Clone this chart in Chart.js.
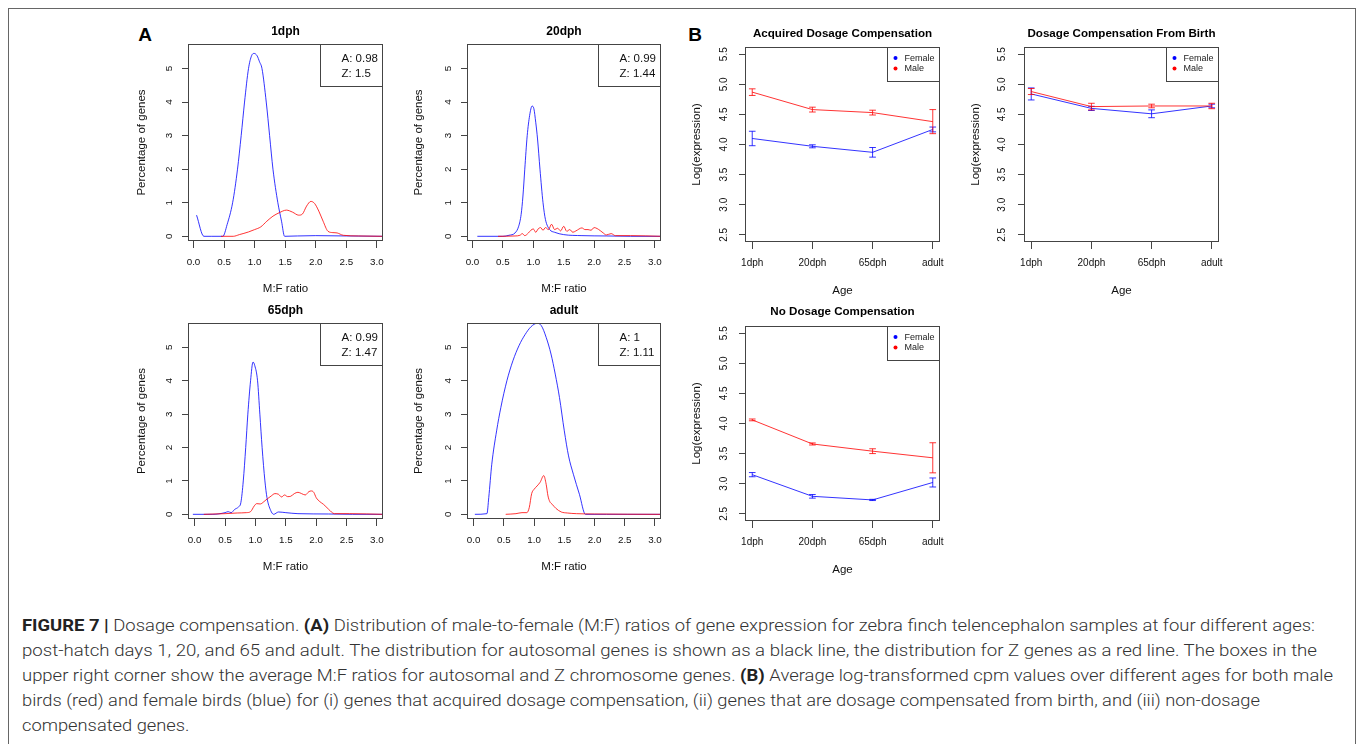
<!DOCTYPE html>
<html>
<head>
<meta charset="utf-8">
<script src="https://cdn.jsdelivr.net/npm/chart.js@4.4.1/dist/chart.umd.min.js"></script>
<style>
  body { margin: 0; background: #fff; width: 1358px; height: 744px; overflow: hidden; position: relative; font-family: "Liberation Sans", Arial, sans-serif; }
  #frame { position: absolute; left: 8px; top: 8px; width: 1346px; height: 760px; border: 1px solid #666; }
  .pnl { position: absolute; }
  .tag { position: absolute; font-weight: bold; font-size: 19px; color: #000; transform: translate(-50%, -50%); }
  .cap { position: absolute; left: 22px; white-space: nowrap; font-family: Roboto, "Liberation Sans", sans-serif; font-weight: 300; font-size: 17px; line-height: 20px; color: #333; transform-origin: 0 50%; }
  .cap b { font-weight: bold; color: #222; }
</style>
</head>
<body>
<div id="frame"></div>
<div class="tag" style="left:145px;top:35px">A</div>
<div class="tag" style="left:695px;top:35px">B</div>

<script>
// ---------- data ----------
const ratioTicks = [0, 0.5, 1, 1.5, 2, 2.5, 3];
const pctTicks = [0, 1, 2, 3, 4, 5];
const ages = ['1dph', '20dph', '65dph', 'adult'];
const logTicks = [2.5, 3, 3.5, 4, 4.5, 5, 5.5];

// A: M:F ratio densities (blue = autosomal, red = Z)
const d1AutoX = [0.05, 0.17, 0.3, 0.48, 0.55, 0.64, 0.72, 0.78, 0.835, 0.9, 0.95, 0.99, 1.04, 1.08, 1.12, 1.19, 1.245, 1.3, 1.38, 1.44, 1.49, 1.7, 2.0, 2.5, 3.1];
const d1AutoY = [0.63, 0, 0, 0, 0.35, 1.0, 2.0, 3.0, 4.0, 5.0, 5.38, 5.45, 5.38, 5.2, 5.0, 4.0, 3.0, 2.0, 1.0, 0.45, 0.0, 0.01, 0.02, 0.01, 0];
const d1ZX = [0.45, 0.65, 0.75, 0.9, 1.0, 1.1, 1.2, 1.3, 1.4, 1.52, 1.62, 1.72, 1.78, 1.85, 1.92, 1.98, 2.05, 2.12, 2.2, 2.28, 2.35, 2.45, 2.7, 3.1];
const d1ZY = [0, 0, 0.05, 0.13, 0.2, 0.28, 0.45, 0.6, 0.7, 0.78, 0.72, 0.63, 0.66, 0.9, 1.04, 0.98, 0.75, 0.45, 0.15, 0.11, 0.1, 0.03, 0.01, 0];
const d1Note = ['A: 0.98', 'Z: 1.5'];

const d20AutoX = [0.08, 0.5, 0.6, 0.7, 0.76, 0.8, 0.83, 0.86, 0.9, 0.94, 0.98, 1.01, 1.04, 1.07, 1.11, 1.16, 1.2, 1.27, 1.35, 1.5, 1.8, 2.2, 2.6, 3.1];
const d20AutoY = [0, 0, 0.03, 0.1, 0.3, 0.65, 1.2, 2.0, 3.0, 3.6, 3.88, 3.8, 3.4, 2.9, 2.0, 1.0, 0.5, 0.2, 0.12, 0.05, 0.02, 0.01, 0, 0];
const d20ZX = [0.42, 0.7, 0.78, 0.82, 0.86, 0.92, 0.96, 1.0, 1.04, 1.08, 1.12, 1.16, 1.2, 1.25, 1.3, 1.35, 1.4, 1.45, 1.5, 1.55, 1.6, 1.65, 1.7, 1.8, 1.85, 1.9, 1.95, 2.0, 2.05, 2.1, 2.15, 2.2, 2.28, 2.35, 2.6, 3.1];
const d20ZY = [0, 0.01, 0.03, 0.08, 0.02, 0.1, 0.18, 0.22, 0.12, 0.22, 0.26, 0.18, 0.26, 0.2, 0.36, 0.2, 0.24, 0.16, 0.3, 0.15, 0.2, 0.12, 0.16, 0.25, 0.2, 0.2, 0.18, 0.26, 0.23, 0.17, 0.1, 0.04, 0.08, 0.02, 0.02, 0];
const d20Note = ['A: 0.99', 'Z: 1.44'];

const d65AutoX = [-0.03, 0.3, 0.5, 0.55, 0.6, 0.66, 0.72, 0.76, 0.8, 0.84, 0.875, 0.92, 0.96, 0.99, 1.035, 1.073, 1.11, 1.156, 1.19, 1.25, 1.3, 1.38, 1.5, 1.7, 2.2, 2.6, 3.1];
const d65AutoY = [0, 0, 0.05, 0.08, 0.05, 0.15, 0.22, 0.35, 1.0, 2.0, 3.0, 4.0, 4.56, 4.45, 4.0, 3.0, 2.0, 1.0, 0.5, 0.12, 0.0, 0.07, 0.05, 0.02, 0.01, 0, 0];
const d65ZX = [0.15, 0.5, 0.7, 0.85, 0.92, 0.98, 1.02, 1.08, 1.14, 1.2, 1.26, 1.32, 1.38, 1.43, 1.48, 1.53, 1.58, 1.64, 1.7, 1.76, 1.82, 1.88, 1.92, 1.96, 2.0, 2.06, 2.12, 2.2, 2.3, 2.55, 3.1];
const d65ZY = [0, 0.02, 0.04, 0.05, 0.08, 0.25, 0.32, 0.31, 0.38, 0.47, 0.55, 0.62, 0.6, 0.52, 0.58, 0.53, 0.54, 0.62, 0.66, 0.62, 0.58, 0.68, 0.7, 0.66, 0.5, 0.38, 0.3, 0.16, 0.02, 0.02, 0];
const d65Note = ['A: 0.99', 'Z: 1.47'];

const dAdAutoX = [0.02, 0.22, 0.25, 0.3, 0.38, 0.45, 0.55, 0.65, 0.75, 0.85, 0.95, 1.05, 1.12, 1.2, 1.28, 1.35, 1.42, 1.5, 1.57, 1.65, 1.75, 1.85, 2.2, 3.1];
const dAdAutoY = [0, 0.02, 0.5, 1.5, 2.5, 3.2, 4.0, 4.6, 5.05, 5.38, 5.62, 5.72, 5.65, 5.3, 4.8, 4.2, 3.5, 2.5, 1.75, 1.2, 0.6, 0.0, 0, 0];
const dAdZX = [0.53, 0.7, 0.8, 0.88, 0.92, 0.96, 1.0, 1.05, 1.1, 1.16, 1.2, 1.23, 1.26, 1.3, 1.36, 1.45, 1.55, 1.7, 2.0, 3.1];
const dAdZY = [0, 0.02, 0.05, 0.05, 0.2, 0.62, 0.75, 0.85, 0.96, 1.16, 0.9, 0.55, 0.38, 0.3, 0.18, 0.07, 0.04, 0.02, 0.01, 0];
const dAdNote = ['A: 1', 'Z: 1.11'];

// B: mean log(expression) per age, with error bar half-widths
const acqFemale = [4.10, 3.97, 3.87, 4.25];
const acqFemaleErr = [0.12, 0.025, 0.08, 0.04];
const acqMale = [4.87, 4.58, 4.53, 4.38];
const acqMaleErr = [0.055, 0.04, 0.04, 0.2];

const birthFemale = [4.84, 4.60, 4.51, 4.64];
const birthFemaleErr = [0.10, 0.035, 0.065, 0.03];
const birthMale = [4.88, 4.63, 4.64, 4.64];
const birthMaleErr = [0.05, 0.055, 0.03, 0.045];

const noneFemale = [3.15, 2.79, 2.73, 3.02];
const noneFemaleErr = [0.035, 0.03, 0.01, 0.075];
const noneMale = [4.06, 3.66, 3.54, 3.43];
const noneMaleErr = [0.015, 0.017, 0.04, 0.25];

// ---------- styling / layout ----------
const BLUE = 'rgba(0,0,255,0.8)';
const RED = 'rgba(255,0,0,0.8)';
const AX = '#444';
const FONT = '"Liberation Sans", Arial, Helvetica, sans-serif';
const CAP = 0.055;               // error bar cap half width, x units
const ML = 60, MT = 32, MR = 10, MB = 58;
const LAB = 11.5;                // axis title font size

const mctx = document.createElement('canvas').getContext('2d');
function textW(s, size) { mctx.font = size + 'px ' + FONT; return mctx.measureText(s).width; }

function pts(xs, ys) { return xs.map((x, i) => ({x: x, y: ys[i]})); }

function errSegs(vals, errs) {
  const out = [];
  vals.forEach((v, i) => {
    const x = i + 1, lo = v - errs[i], hi = v + errs[i];
    out.push({x: x, y: lo}, {x: x, y: hi}, {x: x, y: null});
    out.push({x: x - CAP, y: hi}, {x: x + CAP, y: hi}, {x: x, y: null});
    out.push({x: x - CAP, y: lo}, {x: x + CAP, y: lo}, {x: x, y: null});
  });
  return out;
}

function curve(xs, ys, color) {
  return {data: pts(xs, ys), showLine: true, borderColor: color, borderWidth: 1,
    pointRadius: 0, cubicInterpolationMode: 'monotone'};
}
function means(vals, color) {
  return {data: vals.map((v, i) => ({x: i + 1, y: v})), showLine: true, borderColor: color, borderWidth: 1, pointRadius: 0};
}
function bars(vals, errs, color) {
  return {data: errSegs(vals, errs), showLine: true, spanGaps: false, borderColor: color, borderWidth: 1, pointRadius: 0};
}

// plot box, note box (A) and legend box (B)
const framePlugin = {
  id: 'frame',
  afterDatasetsDraw(chart, args, o) {
    const {ctx, chartArea: a} = chart;
    const L = Math.round(a.left) + 0.5, T = Math.round(a.top) + 0.5;
    const R = Math.round(a.right) - 0.5, B = Math.round(a.bottom) - 0.5;
    ctx.save();
    ctx.strokeStyle = AX;
    ctx.lineWidth = 1;
    ctx.strokeRect(L, T, R - L, B - T);
    ctx.textBaseline = 'middle';
    ctx.textAlign = 'left';
    if (o.note) {
      const bw = 62, bh = 42;
      ctx.strokeRect(R - bw, T, bw, bh);
      ctx.fillStyle = '#111';
      ctx.font = LAB + 'px ' + FONT;
      o.note.forEach((s, i) => ctx.fillText(s, R - bw + 21, T + 14 + i * 15));
    }
    if (o.legend) {
      const bw = 52, bh = 34;
      ctx.strokeRect(R - bw, T, bw, bh);
      ctx.font = '9px ' + FONT;
      o.legend.forEach((it, i) => {
        const y = T + 10.5 + i * 10.5;
        ctx.fillStyle = it.color;
        ctx.beginPath();
        ctx.arc(R - bw + 8, y, 2, 0, Math.PI * 2);
        ctx.fill();
        ctx.fillStyle = '#222';
        ctx.fillText(it.label, R - bw + 17, y + 0.5);
      });
    }
    ctx.restore();
  }
};

function makePanel(p) {
  const [l, t, r, b] = p.box;
  const w = r - l + ML + MR, h = b - t + MT + MB;
  const div = document.createElement('div');
  div.className = 'pnl';
  div.style.left = (l - ML) + 'px';
  div.style.top = (t - MT) + 'px';
  const cv = document.createElement('canvas');
  cv.width = w; cv.height = h;
  cv.style.width = w + 'px'; cv.style.height = h + 'px';
  div.appendChild(cv);
  document.body.appendChild(div);

  const titleLH = p.titleSize * 1.2;
  const tc = MT + p.titleDy;
  const tickLH = p.tickSize * 1.2;
  const labLH = LAB * 1.2;
  const widest = Math.max(...p.yTicks.map(v => textW(p.yFmt(v), p.tickSize)));
  const zeroPad = s => { s.paddingLeft = s.paddingRight = s.paddingTop = s.paddingBottom = 0; };

  new Chart(cv, {
    type: 'scatter',
    data: {datasets: p.datasets},
    options: {
      responsive: false,
      animation: false,
      devicePixelRatio: 1,
      events: [],
      layout: {padding: {left: 0, top: 0, right: MR, bottom: 0}},
      plugins: {
        legend: {display: false},
        tooltip: {enabled: false},
        title: {
          display: true, text: p.title, fullSize: false, color: '#000',
          font: {family: FONT, size: p.titleSize, weight: 'bold', lineHeight: 1.2},
          padding: {top: tc - titleLH / 2, bottom: MT - tc - titleLH / 2}
        },
        frame: {note: p.note || null, legend: p.legend || null}
      },
      scales: {
        x: {
          type: 'linear', min: p.xMin, max: p.xMax,
          afterBuildTicks: s => { s.ticks = p.xTicks.map(v => ({value: v})); },
          afterFit: s => { s.height = MB; zeroPad(s); },
          grid: {drawOnChartArea: false, drawTicks: true, tickLength: 7, color: AX, lineWidth: 1},
          border: {display: false},
          ticks: {
            autoSkip: false, minRotation: 0, maxRotation: 0, color: '#111',
            font: {family: FONT, size: p.tickSize, lineHeight: 1.2},
            padding: 21.6 - 7 - tickLH / 2,
            callback: v => p.xFmt(v)
          },
          title: {
            display: true, text: p.xTitle, color: '#111',
            font: {family: FONT, size: LAB, lineHeight: 1.2},
            padding: {top: 0, bottom: MB - p.xTitleDy - labLH / 2}
          }
        },
        y: {
          type: 'linear', min: p.yMin, max: p.yMax,
          afterBuildTicks: s => { s.ticks = p.yTicks.map(v => ({value: v})); },
          afterFit: s => { s.width = ML; zeroPad(s); },
          grid: {drawOnChartArea: false, drawTicks: true, tickLength: 6, color: AX, lineWidth: 1},
          border: {display: false},
          ticks: {
            autoSkip: false, minRotation: 90, maxRotation: 90, crossAlign: 'center', color: '#111',
            font: {family: FONT, size: p.tickSize, lineHeight: 1.2},
            padding: -p.yLabDx - 6 - widest / 2,
            callback: v => p.yFmt(v)
          },
          title: {
            display: true, text: p.yTitle, color: '#111',
            font: {family: FONT, size: LAB, lineHeight: 1.2},
            padding: {top: ML + p.yTitleDx - labLH / 2, bottom: 0}
          }
        }
      }
    },
    plugins: [framePlugin]
  });
}

function densityPanel(box, title, xMin, autoX, autoY, zX, zY, note, yTitleDx) {
  makePanel({
    box: box, title: title, titleSize: 12, titleDy: -12.5, tickSize: 9.8,
    xMin: xMin, xMax: 3.1, yMin: -0.14, yMax: 5.73,
    xTicks: ratioTicks, yTicks: pctTicks,
    xFmt: v => v.toFixed(1), yFmt: v => String(v),
    xTitle: 'M:F ratio', yTitle: 'Percentage of genes',
    xTitleDy: 48.3, yTitleDx: yTitleDx, yLabDx: -19.2,
    note: note,
    datasets: [curve(zX, zY, RED), curve(autoX, autoY, BLUE)]
  });
}

function agePanel(box, title, female, femaleErr, male, maleErr, titleDy, yLabDx) {
  makePanel({
    box: box, title: title, titleSize: 11.6, titleDy: titleDy, tickSize: 10,
    xMin: 0.88, xMax: 4.12, yMin: 2.38, yMax: 5.62,
    xTicks: [1, 2, 3, 4], yTicks: logTicks,
    xFmt: v => ages[Math.round(v) - 1], yFmt: v => v.toFixed(1),
    xTitle: 'Age', yTitle: 'Log(expression)',
    xTitleDy: 49.3, yTitleDx: -48.5, yLabDx: yLabDx,
    legend: [{label: 'Female', color: 'rgb(0,0,255)'}, {label: 'Male', color: 'rgb(255,0,0)'}],
    datasets: [
      means(male, RED), bars(male, maleErr, RED),
      means(female, BLUE), bars(female, femaleErr, BLUE)
    ]
  });
}

densityPanel([188, 44, 383, 241], '1dph', -0.09, d1AutoX, d1AutoY, d1ZX, d1ZY, d1Note, -46);
densityPanel([467, 44, 661, 241], '20dph', -0.09, d20AutoX, d20AutoY, d20ZX, d20ZY, d20Note, -48.4);
densityPanel([188, 323, 383, 519], '65dph', -0.11, d65AutoX, d65AutoY, d65ZX, d65ZY, d65Note, -46);
densityPanel([467, 323, 661, 519], 'adult', -0.11, dAdAutoX, dAdAutoY, dAdZX, dAdZY, dAdNote, -48.4);

agePanel([745, 47, 940, 242], 'Acquired Dosage Compensation', acqFemale, acqFemaleErr, acqMale, acqMaleErr, -13.5, -21);
agePanel([1024, 47, 1219, 242], 'Dosage Compensation From Birth', birthFemale, birthFemaleErr, birthMale, birthMaleErr, -13.5, -22);
agePanel([745, 326, 940, 521], 'No Dosage Compensation', noneFemale, noneFemaleErr, noneMale, noneMaleErr, -14, -21);

// ---------- caption ----------
// w = target line width in px; null keeps the previous line's horizontal scale
const capLines = [
  {y: 625, w: 1293, html: '<b>FIGURE 7 |</b> Dosage compensation. <b>(A)</b> Distribution of male-to-female (M:F) ratios of gene expression for zebra finch telencephalon samples at four different ages:'},
  {y: 650, w: 1295, html: 'post-hatch days 1, 20, and 65 and adult. The distribution for autosomal genes is shown as a black line, the distribution for Z genes as a red line. The boxes in the'},
  {y: 675, w: 1311, html: 'upper right corner show the average M:F ratios for autosomal and Z chromosome genes. <b>(B)</b> Average log-transformed cpm values over different ages for both male'},
  {y: 700, w: 1238, html: 'birds (red) and female birds (blue) for (i) genes that acquired dosage compensation, (ii) genes that are dosage compensated from birth, and (iii) non-dosage'},
  {y: 725, w: null, html: 'compensated genes.'}
];
let lastScale = 1;
capLines.forEach(c => {
  const d = document.createElement('div');
  d.className = 'cap';
  d.style.top = (c.y - 10) + 'px';
  d.innerHTML = c.html;
  document.body.appendChild(d);
  const nat = d.getBoundingClientRect().width;
  if (c.w) lastScale = c.w / nat;
  d.style.transform = 'scaleX(' + lastScale + ')';
});
</script>
</body>
</html>
